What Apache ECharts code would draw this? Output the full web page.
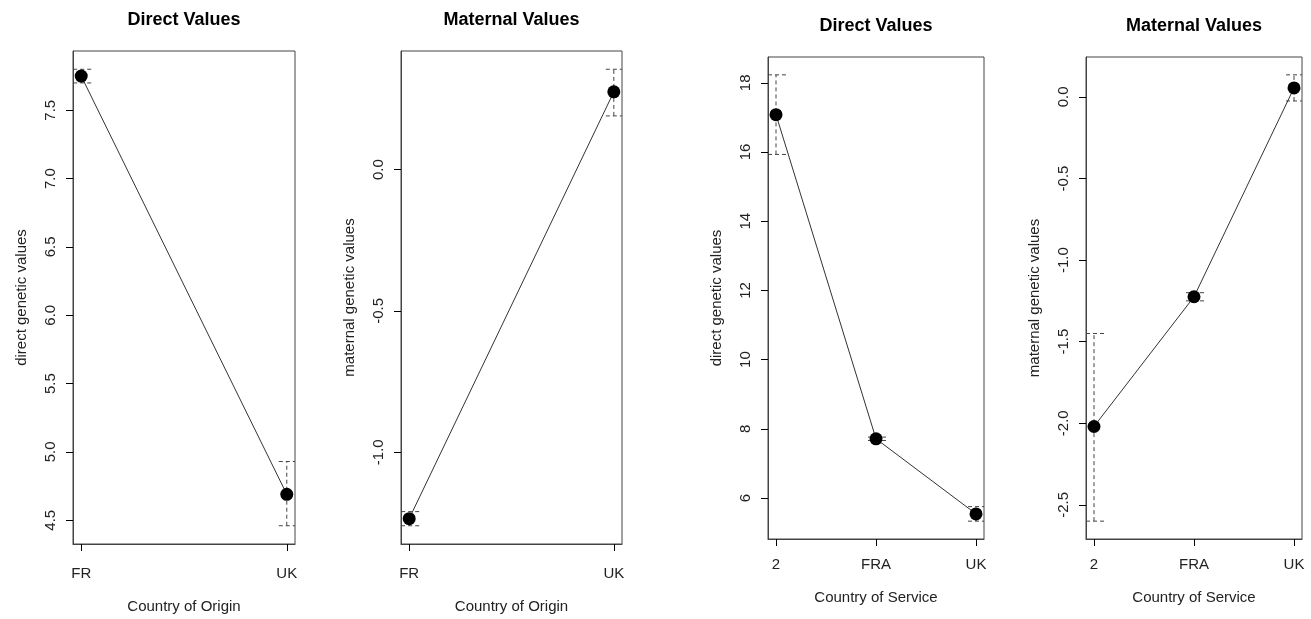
<!DOCTYPE html>
<html>
<head>
<meta charset="utf-8">
<script src="https://cdn.jsdelivr.net/npm/echarts@6/dist/echarts.min.js"></script>
<style>
  html, body { margin: 0; padding: 0; background: #fff; }
  #chart { width: 1311px; height: 619px; }
</style>
</head>
<body>
<div id="chart"></div>
<script>
// categories
const originCats = ['FR', 'UK'];
const serviceCats = ['2', 'FRA', 'UK'];

// estimates with lower / upper bounds
const originDirect = [7.75, 4.69];
const originDirectLow = [7.70, 4.46];
const originDirectHigh = [7.80, 4.93];

const originMaternal = [-1.235, 0.275];
const originMaternalLow = [-1.26, 0.19];
const originMaternalHigh = [-1.21, 0.355];

const serviceDirect = [17.08, 7.71, 5.54];
const serviceDirectLow = [15.93, 7.66, 5.33];
const serviceDirectHigh = [18.23, 7.76, 5.75];

const serviceMaternal = [-2.02, -1.225, 0.055];
const serviceMaternalLow = [-2.60, -1.25, -0.025];
const serviceMaternalHigh = [-1.45, -1.20, 0.135];

// tick labels
const ticksOriginDirect = [4.5, 5.0, 5.5, 6.0, 6.5, 7.0, 7.5];
const ticksOriginMaternal = [-1.0, -0.5, 0.0];
const ticksServiceDirect = [6, 8, 10, 12, 14, 16, 18];
const ticksServiceMaternal = [-2.5, -2.0, -1.5, -1.0, -0.5, 0.0];

const FONT = 'Liberation Sans, Arial, sans-serif';
const TXT = '#222';
const BOX = '#444';
const TICK = '#000';

const panels = [
  { title: 'Direct Values', cats: originCats, val: originDirect, lo: originDirectLow, hi: originDirectHigh,
    ticks: ticksOriginDirect, dec: 1, yName: 'direct genetic values', xName: 'Country of Origin',
    grid: { left: 73, top: 51, width: 222, height: 496 }, titleY: 20, lblMargin: 22, xGap: 55 },
  { title: 'Maternal Values', cats: originCats, val: originMaternal, lo: originMaternalLow, hi: originMaternalHigh,
    ticks: ticksOriginMaternal, dec: 1, yName: 'maternal genetic values', xName: 'Country of Origin',
    grid: { left: 401, top: 51, width: 221, height: 496 }, titleY: 20, lblMargin: 22, xGap: 55 },
  { title: 'Direct Values', cats: serviceCats, val: serviceDirect, lo: serviceDirectLow, hi: serviceDirectHigh,
    ticks: ticksServiceDirect, dec: 0, yName: 'direct genetic values', xName: 'Country of Service',
    grid: { left: 768, top: 57, width: 216, height: 482 }, titleY: 26, lblMargin: 18, xGap: 51 },
  { title: 'Maternal Values', cats: serviceCats, val: serviceMaternal, lo: serviceMaternalLow, hi: serviceMaternalHigh,
    ticks: ticksServiceMaternal, dec: 1, yName: 'maternal genetic values', xName: 'Country of Service',
    grid: { left: 1086, top: 57, width: 216, height: 482 }, titleY: 26, lblMargin: 18, xGap: 51 }
];

const grids = [], xAxes = [], yAxes = [], series = [], texts = [];

panels.forEach((p, i) => {
  const n = p.cats.length;
  // R style 4% range extension
  const ymin = Math.min(...p.lo), ymax = Math.max(...p.hi);
  const ypad = 0.04 * (ymax - ymin);
  const xpad = 0.04 * (n - 1);
  const xs = p.cats.map((c, k) => k + 1);

  grids.push(Object.assign({ show: true, borderColor: BOX, borderWidth: 1, backgroundColor: 'transparent' }, p.grid));

  xAxes.push({
    type: 'value', gridIndex: i, min: 1 - xpad, max: n + xpad, position: 'bottom',
    name: p.xName, nameLocation: 'middle', nameGap: p.xGap,
    nameTextStyle: { fontFamily: FONT, fontSize: 15, color: TXT },
    axisLine: { show: true, onZero: false, lineStyle: { color: BOX } },
    splitLine: { show: false },
    axisTick: { show: true, inside: false, length: 7, customValues: xs, lineStyle: { color: TICK, width: 1 } },
    axisLabel: { customValues: xs, margin: p.lblMargin, fontFamily: FONT, fontSize: 15, color: TXT,
      formatter: v => p.cats[Math.round(v) - 1] }
  });

  yAxes.push({
    type: 'value', gridIndex: i, min: ymin - ypad, max: ymax + ypad, position: 'left',
    name: p.yName, nameLocation: 'middle', nameGap: 44,
    nameTextStyle: { fontFamily: FONT, fontSize: 15, color: TXT },
    axisLine: { show: true, onZero: false, lineStyle: { color: BOX } },
    splitLine: { show: false },
    axisTick: { show: true, inside: false, length: 7, customValues: p.ticks, lineStyle: { color: TICK, width: 1 } },
    axisLabel: { customValues: p.ticks, rotate: 90, margin: 15, fontFamily: FONT, fontSize: 15, color: TXT,
      formatter: v => v.toFixed(p.dec) }
  });

  // dashed error bars with caps
  series.push({
    type: 'custom', xAxisIndex: i, yAxisIndex: i, z: 1, silent: true,
    data: xs.map((x, k) => [x, p.lo[k], p.hi[k]]),
    renderItem: (params, api) => {
      const x = api.value(0);
      const a = api.coord([x, api.value(1)]);
      const b = api.coord([x, api.value(2)]);
      const cs = params.coordSys;
      const cl = v => Math.min(Math.max(v, cs.x), cs.x + cs.width);
      const st = { stroke: BOX, lineWidth: 1, lineDash: [4, 3], fill: null };
      return {
        type: 'group',
        children: [
          { type: 'line', shape: { x1: a[0], y1: a[1], x2: b[0], y2: b[1] }, style: st },
          { type: 'line', shape: { x1: cl(b[0] - 8), y1: b[1], x2: cl(b[0] + 12), y2: b[1] }, style: st },
          { type: 'line', shape: { x1: cl(a[0] - 8), y1: a[1], x2: cl(a[0] + 12), y2: a[1] }, style: st }
        ]
      };
    }
  });

  series.push({
    type: 'line', xAxisIndex: i, yAxisIndex: i, z: 2, silent: true,
    data: xs.map((x, k) => [x, p.val[k]]),
    symbol: 'circle', symbolSize: 13,
    itemStyle: { color: '#000' },
    lineStyle: { color: '#333', width: 1 }
  });

  texts.push({
    type: 'text', x: p.grid.left + p.grid.width / 2, y: p.titleY,
    style: { text: p.title, fontFamily: FONT, fontSize: 18, fontWeight: 'bold', fill: '#000',
      textAlign: 'center', textVerticalAlign: 'middle' }
  });
});

const chart = echarts.init(document.getElementById('chart'));
chart.setOption({
  animation: false,
  backgroundColor: '#fff',
  grid: grids,
  xAxis: xAxes,
  yAxis: yAxes,
  series: series,
  graphic: texts
});
</script>
</body>
</html>
